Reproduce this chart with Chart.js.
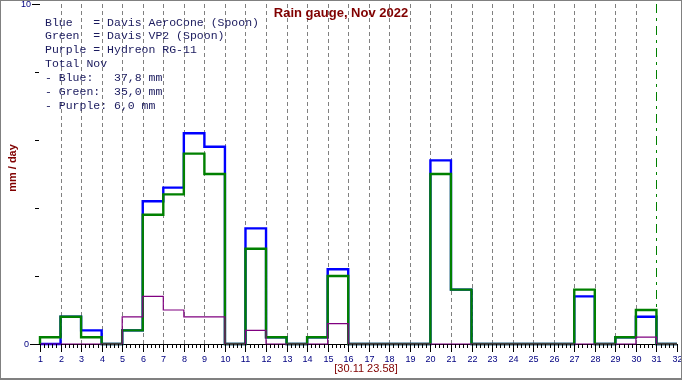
<!DOCTYPE html>
<html><head><meta charset="utf-8">
<script src="https://cdn.jsdelivr.net/npm/chart.js@4/dist/chart.umd.min.js"></script>
<style>html,body{margin:0;padding:0;background:#fff;overflow:hidden}#wrap{width:682px;height:380px}</style>
</head><body><div id="wrap"><canvas id="c" width="682" height="380"></canvas></div>
<script>
// ---- data (mm per day, November 2022) ----
const days = [1,2,3,4,5,6,7,8,9,10,11,12,13,14,15,16,17,18,19,20,21,22,23,24,25,26,27,28,29,30,31];
const blueMm   = [0,0.8,0.4,0,0.4,4.2,4.6,6.2,5.8,0,3.4,0.2,0,0.2,2.2,0,0,0,0,5.4,1.6,0,0,0,0,0,1.4,0,0.2,0.8,0];
const greenMm  = [0.2,0.8,0.2,0,0.4,3.8,4.4,5.6,5.0,0,2.8,0.2,0,0.2,2.0,0,0,0,0,5.0,1.6,0,0,0,0,0,1.6,0,0.2,1.0,0];
const purpleMm = [0,0,0,0,0.8,1.4,1.0,0.8,0.8,0,0.4,0,0,0,0.6,0,0,0,0,0,0,0,0,0,0,0,0,0,0,0.2,0];
const xTickLabels = ['1','2','3','4','5','6','7','8','9','10','11','12','13','14','15','16','17','18','19','20','21','22','23','24','25','26','27','28','29','30','31','32'];
const yLabeledTicks = [0, 10];
const currentDay = 31;
const titleText = 'Rain gauge, Nov 2022';
const xAxisText = '[30.11 23.58]';
const yAxisText = 'mm / day';
const infoLines = [
  'Blue   = Davis AeroCone (Spoon)',
  'Green  = Davis VP2 (Spoon)',
  'Purple = Hydreon RG-11',
  'Total Nov',
  '- Blue:   37,8 mm',
  '- Green:  35,0 mm',
  '- Purple: 6,0 mm'
];

// build step outline points from the daily values
function stepPoints(vals){
  const pts = [{x: days[0], y: 0}];
  vals.forEach((v, i) => {
    pts.push({x: days[i], y: v});
    pts.push({x: days[i] + 1, y: v});
  });
  pts.push({x: days[days.length-1] + 1, y: 0});
  return pts;
}

const deco = {
  id: 'deco',
  beforeDraw(chart){
    const c = chart.ctx;
    c.save(); c.fillStyle = '#fff'; c.fillRect(0,0,chart.width,chart.height); c.restore();
  },
  beforeDatasetsDraw(chart){
    const {ctx: c, chartArea: a, scales: {x, y}} = chart;
    c.save();
    c.lineWidth = 1;
    for (const d of days){
      if (d < 2) continue;
      const px = Math.round(x.getPixelForValue(d)) + 0.5;
      if (d === currentDay){ c.strokeStyle = '#008000'; c.setLineDash([9,5,3,5]); }
      else { c.strokeStyle = '#808080'; c.setLineDash([4,3]); }
      c.beginPath(); c.moveTo(px, a.top); c.lineTo(px, a.bottom); c.stroke();
    }
    c.setLineDash([]);
    const y0 = Math.round(y.getPixelForValue(0)) + 0.5;
    c.strokeStyle = '#000';
    c.beginPath(); c.moveTo(a.left, y0); c.lineTo(a.right, y0); c.stroke();
    c.restore();
  },
  afterDatasetsDraw(chart){
    const {ctx: c, chartArea: a, scales: {x, y}} = chart;
    c.save();
    c.lineWidth = 1; c.strokeStyle = '#000';
    const yb = Math.round(y.getPixelForValue(0));
    const lastDay = days[days.length-1] + 1;
    c.fillStyle = '#000080';
    c.font = '9px "Liberation Sans", Arial, sans-serif';
    c.textAlign = 'center'; c.textBaseline = 'middle';
    for (let d = days[0]; d <= lastDay; d++){
      const px = Math.round(x.getPixelForValue(d)) + 0.5;
      c.beginPath(); c.moveTo(px, yb); c.lineTo(px, yb + 8); c.stroke();
      c.fillText(xTickLabels[d - 1], px, yb + 16);
      if (d < lastDay){
        for (let k = 1; k <= 4; k++){
          const mx = Math.round(x.getPixelForValue(d + k/5)) + 0.5;
          c.beginPath(); c.moveTo(mx, yb); c.lineTo(mx, yb + 4); c.stroke();
        }
      }
    }
    c.textAlign = 'right';
    for (let v = 0; v <= 10; v += 2){
      const py = Math.round(y.getPixelForValue(v)) + 0.5;
      const x0 = v === 0 ? 30 : (v === 10 ? 32 : 35);
      c.beginPath(); c.moveTo(x0, py); c.lineTo(a.left - (v===0||v===10?0:1), py); c.stroke();
      if (yLabeledTicks.includes(v)) c.fillText(String(v), x0 - 1, py);
    }
    // info text
    c.fillStyle = '#1a1a5e';
    c.font = '11.5px "Liberation Mono", "Courier New", monospace';
    c.textBaseline = 'middle'; c.textAlign = 'left';
    infoLines.forEach((t, i) => c.fillText(t, 45, 22.5 + i * 13.9));
    // title
    c.fillStyle = '#800000';
    c.font = 'bold 13px "Liberation Sans", Arial, sans-serif';
    c.textAlign = 'center';
    c.fillText(titleText, 341, 13);
    // x axis label
    c.font = '11px "Liberation Sans", Arial, sans-serif';
    c.fillText(xAxisText, 366, 369);
    // y axis label
    c.save();
    c.translate(13, 168); c.rotate(-Math.PI/2);
    c.font = 'bold 11px "Liberation Sans", Arial, sans-serif';
    c.fillText(yAxisText, 0, 0);
    c.restore();
    // frame
    c.fillStyle = '#808080';
    c.fillRect(0,0,682,1); c.fillRect(0,0,1,380); c.fillRect(681,0,1,380); c.fillRect(0,378,682,2);
    c.restore();
  }
};

const common = {pointRadius: 0, pointHoverRadius: 0, tension: 0, fill: false, clip: false, borderJoinStyle: 'miter', borderCapStyle: 'butt'};

new Chart(document.getElementById('c'), {
  type: 'line',
  data: {
    datasets: [
      Object.assign({label: 'Purple', data: stepPoints(purpleMm), borderColor: '#800080', borderWidth: 1.2, order: 0}, common),
      Object.assign({label: 'Green', data: stepPoints(greenMm), borderColor: '#008000', borderWidth: 2.4, order: 1}, common),
      Object.assign({label: 'Blue', data: stepPoints(blueMm), borderColor: '#0000ff', borderWidth: 2.4, order: 2}, common)
    ]
  },
  options: {
    responsive: false, animation: false, devicePixelRatio: 1,
    layout: {padding: {top: 4, right: 5, left: 0, bottom: 0}},
    plugins: {legend: {display: false}, tooltip: {enabled: false}, title: {display: false}},
    scales: {
      x: {
        type: 'linear', min: 1, max: 32,
        afterFit: s => { s.height = 36; },
        grid: {display: false, drawTicks: false},
        border: {display: false},
        ticks: {display: false, stepSize: 1}
      },
      y: {
        type: 'linear', min: 0, max: 10,
        afterFit: s => { s.width = 40; },
        grid: {display: false, drawTicks: false},
        border: {display: false},
        ticks: {display: false, stepSize: 2}
      }
    }
  },
  plugins: [deco]
});
</script>
</body></html>
